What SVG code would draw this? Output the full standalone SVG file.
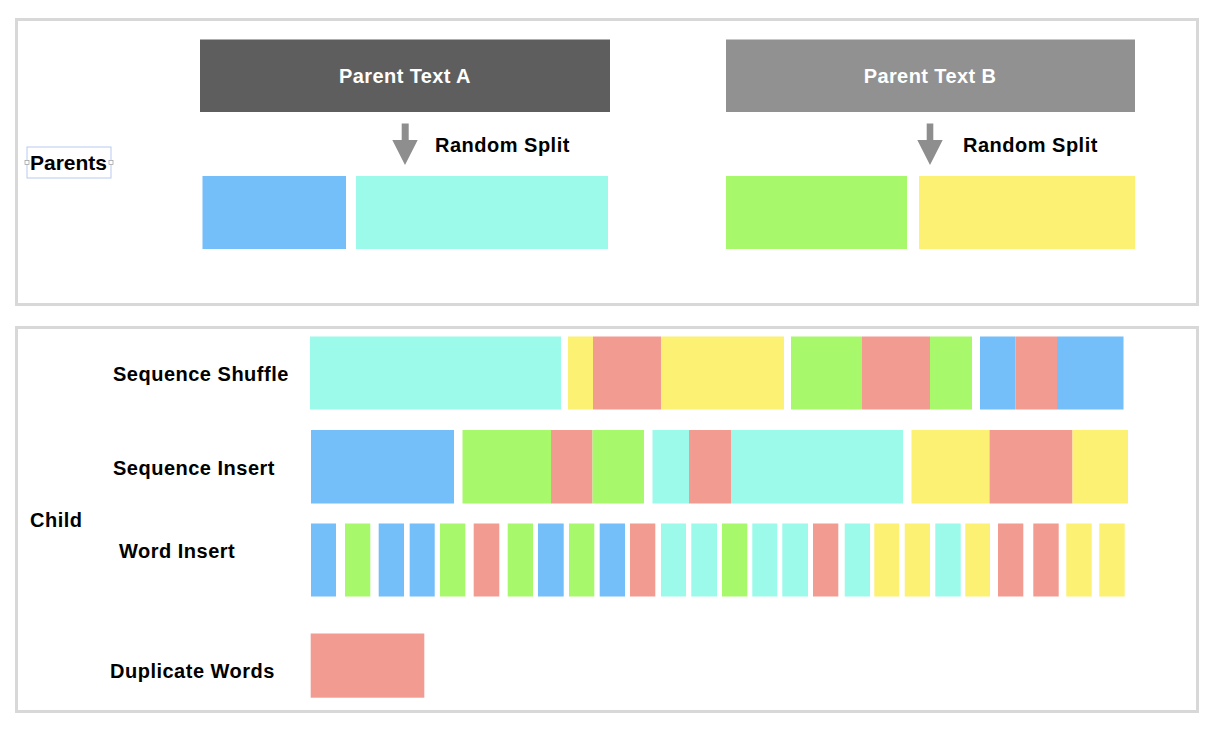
<svg xmlns="http://www.w3.org/2000/svg" width="1220" height="730" viewBox="0 0 1220 730">
<style>
.panel{fill:#fff;stroke:#d8d8d8;stroke-width:3}
.lbl{font-family:"Liberation Sans",Arial,sans-serif;font-weight:bold;font-size:20px;fill:#000;letter-spacing:0.5px}
.hdr{font-family:"Liberation Sans",Arial,sans-serif;font-weight:bold;font-size:20px;fill:#fff;letter-spacing:0.4px;text-anchor:middle}
.b{fill:#74bef9}.c{fill:#9bfaea}.g{fill:#a7f86b}.y{fill:#fdf173}.s{fill:#f29c91}
.arr{fill:#8e8e8e}
</style>
<rect width="1220" height="730" fill="#fff"/>
<g id="panel-parents"><rect class="panel" x="16.5" y="19.5" width="1181" height="285"/></g>
<g id="panel-child"><rect class="panel" x="16.5" y="327.5" width="1181" height="384"/></g>

<g id="label-parents">
<rect x="27" y="147" width="84" height="31" fill="none" stroke="#b9c9f2" stroke-width="1"/>
<rect x="25" y="160.5" width="4" height="4" fill="#fff" stroke="#999" stroke-width="0.7"/>
<rect x="109" y="160.5" width="4" height="4" fill="#fff" stroke="#999" stroke-width="0.7"/>
<text class="lbl" x="30" y="170" style="font-size:21px;letter-spacing:0">Parents</text>
</g>

<g id="parent-a">
<rect x="200" y="39.5" width="410" height="72.5" fill="#5e5e5e"/>
<text class="hdr" x="405" y="83">Parent Text A</text>
</g>
<g id="parent-b">
<rect x="726" y="39.5" width="409" height="72.5" fill="#919191"/>
<text class="hdr" x="930" y="83">Parent Text B</text>
</g>

<g id="connectors">
<path class="arr" d="M401.7,123.5 H408.7 V140 H417.7 L405,165 L392.3,140 H401.7 Z"/>
<path class="arr" d="M926.7,123.5 H933.3 V140 H942.7 L930,165 L917.3,140 H926.7 Z"/>
</g>
<text class="lbl" x="435" y="152">Random Split</text>
<text class="lbl" x="963" y="152">Random Split</text>

<g id="split-a">
<rect class="b" x="202.5" y="176" width="143.5" height="73"/>
<rect class="c" x="356" y="176" width="252" height="73"/>
</g>
<g id="split-b">
<rect class="g" x="726" y="176" width="181" height="73"/>
<rect class="y" x="919" y="176" width="216" height="73"/>
</g>

<g id="label-child"><text class="lbl" x="30" y="527">Child</text></g>

<g id="sequence-shuffle">
<text class="lbl" x="113" y="381">Sequence Shuffle</text>
<rect class="c" x="310" y="336.5" width="251" height="73"/>
<rect class="y" x="568" y="336.5" width="25" height="73"/>
<rect class="s" x="593" y="336.5" width="68" height="73"/>
<rect class="y" x="661" y="336.5" width="123" height="73"/>
<rect class="g" x="791" y="336.5" width="71" height="73"/>
<rect class="s" x="862" y="336.5" width="68" height="73"/>
<rect class="g" x="930" y="336.5" width="42" height="73"/>
<rect class="b" x="980" y="336.5" width="35.5" height="73"/>
<rect class="s" x="1015.5" y="336.5" width="41.5" height="73"/>
<rect class="b" x="1057" y="336.5" width="66.5" height="73"/>
</g>

<g id="sequence-insert">
<text class="lbl" x="113" y="474.5">Sequence Insert</text>
<rect class="b" x="311" y="430" width="143" height="73.5"/>
<rect class="g" x="462.5" y="430" width="88.5" height="73.5"/>
<rect class="s" x="551" y="430" width="41.5" height="73.5"/>
<rect class="g" x="592.5" y="430" width="51.5" height="73.5"/>
<rect class="c" x="652.5" y="430" width="36.5" height="73.5"/>
<rect class="s" x="689" y="430" width="42" height="73.5"/>
<rect class="c" x="731" y="430" width="172" height="73.5"/>
<rect class="y" x="911.5" y="430" width="78" height="73.5"/>
<rect class="s" x="989.5" y="430" width="83" height="73.5"/>
<rect class="y" x="1072.5" y="430" width="55.5" height="73.5"/>
</g>

<g id="word-insert">
<text class="lbl" x="119" y="558">Word Insert</text>
<rect class="b" x="311" y="523.5" width="25" height="73"/>
<rect class="g" x="345" y="523.5" width="25.3" height="73"/>
<rect class="b" x="378.7" y="523.5" width="25.3" height="73"/>
<rect class="b" x="409.7" y="523.5" width="25" height="73"/>
<rect class="g" x="440" y="523.5" width="25.3" height="73"/>
<rect class="s" x="473.7" y="523.5" width="25.6" height="73"/>
<rect class="g" x="507.7" y="523.5" width="25.3" height="73"/>
<rect class="b" x="538" y="523.5" width="25.7" height="73"/>
<rect class="g" x="569" y="523.5" width="25.3" height="73"/>
<rect class="b" x="599.7" y="523.5" width="25.3" height="73"/>
<rect class="s" x="630" y="523.5" width="25.3" height="73"/>
<rect class="c" x="661" y="523.5" width="25" height="73"/>
<rect class="c" x="691.3" y="523.5" width="25.7" height="73"/>
<rect class="g" x="722" y="523.5" width="25.3" height="73"/>
<rect class="c" x="752.3" y="523.5" width="25" height="73"/>
<rect class="c" x="782.3" y="523.5" width="25.7" height="73"/>
<rect class="s" x="813" y="523.5" width="25.3" height="73"/>
<rect class="c" x="844.7" y="523.5" width="25.3" height="73"/>
<rect class="y" x="874.3" y="523.5" width="25" height="73"/>
<rect class="y" x="904.7" y="523.5" width="25.3" height="73"/>
<rect class="c" x="935.3" y="523.5" width="25.4" height="73"/>
<rect class="y" x="965.3" y="523.5" width="24.7" height="73"/>
<rect class="s" x="998" y="523.5" width="25.3" height="73"/>
<rect class="s" x="1033.3" y="523.5" width="25.4" height="73"/>
<rect class="y" x="1066.3" y="523.5" width="25.4" height="73"/>
<rect class="y" x="1099.3" y="523.5" width="25.4" height="73"/>
</g>

<g id="duplicate-words">
<text class="lbl" x="110" y="678">Duplicate Words</text>
<rect class="s" x="310.7" y="633.5" width="113.6" height="64.2"/>
</g>
</svg>
